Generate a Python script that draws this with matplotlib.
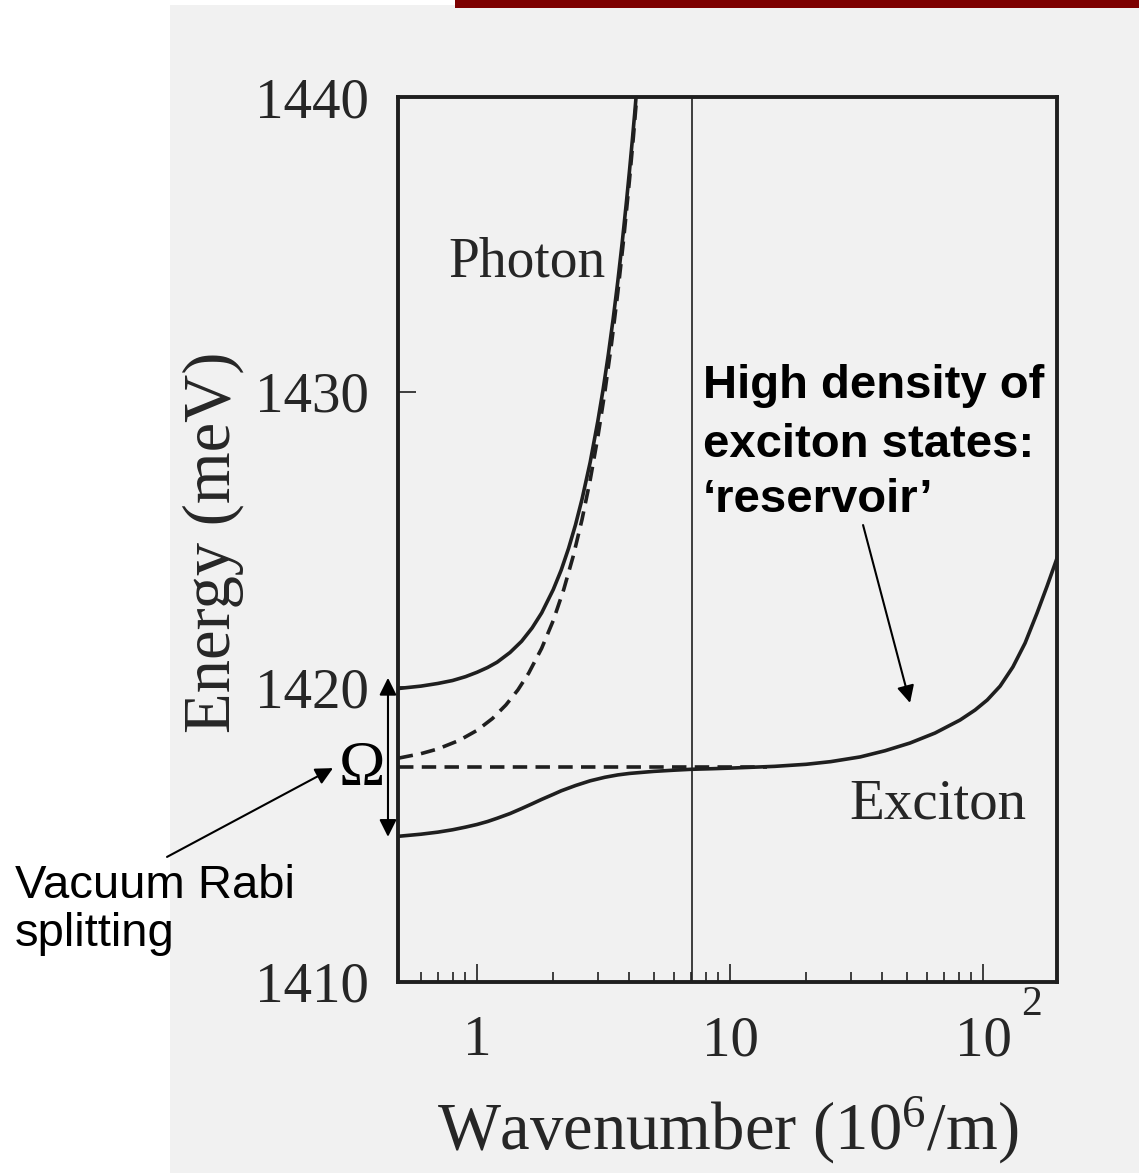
import matplotlib
matplotlib.use("Agg")
import matplotlib.pyplot as plt
import matplotlib.transforms as mtransforms
from matplotlib.patches import Rectangle
from matplotlib.ticker import FixedLocator, NullFormatter

# ---------------- data ----------------
# upper polariton branch (solid)
k_upper = [0.49, 0.6, 0.7, 0.8, 0.9, 1.0, 1.1, 1.2, 1.35, 1.5, 1.65, 1.8, 2.0, 2.15, 2.3,
           2.45, 2.6, 2.8, 3.0, 3.15, 3.3, 3.45, 3.6, 3.75, 3.9, 4.0, 4.1, 4.2, 4.35]
E_upper = [1419.95, 1420.03, 1420.12, 1420.22, 1420.35, 1420.50, 1420.66, 1420.84, 1421.17,
           1421.55, 1422.00, 1422.51, 1423.30, 1423.96, 1424.70, 1425.50, 1426.37, 1427.62,
           1429.00, 1430.09, 1431.25, 1432.47, 1433.75, 1435.09, 1436.50, 1437.46, 1438.45,
           1439.46, 1441.03]

# bare cavity photon (dashed)
k_photon = [0.49, 0.6, 0.7, 0.85, 1.0, 1.15, 1.3, 1.45, 1.6, 1.8, 2.0, 2.2, 2.4, 2.6, 2.8,
            3.0, 3.2, 3.4, 3.6, 3.8, 4.0, 4.15, 4.35]
E_photon = [1417.59, 1417.74, 1417.90, 1418.19, 1418.53, 1418.93, 1419.39, 1419.90, 1420.47,
            1421.31, 1422.25, 1423.30, 1424.44, 1425.68, 1427.02, 1428.46, 1430.00, 1431.64,
            1433.37, 1435.21, 1437.15, 1438.66, 1440.77]

# lower polariton branch -> exciton dispersion (solid)
k_lower = [0.49, 0.6, 0.7, 0.8, 0.9, 1.0, 1.1, 1.2, 1.35, 1.5, 1.65, 1.8, 2.0, 2.15, 2.45,
           2.8, 3.2, 3.6, 4.0, 5.0, 6.0, 7.0, 8.5, 10, 15, 20, 25, 32.7, 41.0, 51.4, 64.6,
           81.1, 93.0, 103.9, 116.8, 131.2, 146.6, 163.5, 179.1, 196.1]
E_lower = [1414.94, 1415.01, 1415.08, 1415.16, 1415.25, 1415.34, 1415.44, 1415.55, 1415.71,
           1415.88, 1416.04, 1416.19, 1416.36, 1416.48, 1416.66, 1416.82, 1416.94, 1417.02,
           1417.07, 1417.14, 1417.18, 1417.21, 1417.23, 1417.25, 1417.31, 1417.38, 1417.47,
           1417.63, 1417.84, 1418.10, 1418.44, 1418.88, 1419.22, 1419.56, 1420.03, 1420.68,
           1421.49, 1422.51, 1423.42, 1424.37]

# bare exciton level (dashed)
k_exciton = [0.49, 14.0]
E_exciton = [1417.30, 1417.30]

# vertical marker
k_marker = 7.08

# axis ticks
y_ticks = [1410, 1420, 1430, 1440]
x_major = [1, 10, 100]
x_major_text = ["1", "10", "10"]
x_minor = [0.6, 0.7, 0.8, 0.9, 2, 3, 4, 5, 6, 7, 8, 9, 20, 30, 40, 50, 60, 70, 80, 90]

# ---------------- figure ----------------
W, H = 1139, 1173
plt.rcParams["font.family"] = ["Liberation Serif", "DejaVu Serif"]
plt.rcParams["mathtext.fontset"] = "custom"
plt.rcParams["mathtext.rm"] = "Liberation Serif"
plt.rcParams["mathtext.it"] = "Liberation Serif:italic"

fig = plt.figure(figsize=(W / 100, H / 100), dpi=100, facecolor="white")

def fx(px):
    return px / W

def fy(py):
    return 1 - py / H

# scanned page and header bar
fig.patches.append(Rectangle((fx(170), 0), 1 - fx(170), fy(5), transform=fig.transFigure,
                             facecolor="#f1f1f1", edgecolor="none", zorder=-10))
fig.patches.append(Rectangle((fx(455), fy(8)), 1 - fx(455), 8 / H, transform=fig.transFigure,
                             facecolor="#7d0000", edgecolor="none", zorder=-10))

ax = fig.add_axes([fx(398), fy(982), (1057 - 398) / W, (982 - 97) / H])
ax.set_facecolor("none")
ax.set_xscale("log")
ax.set_xlim(0.487, 196)
ax.set_ylim(1410, 1440)

ink = "#1f1f1f"
txt = "#262626"
for s in ax.spines.values():
    s.set_linewidth(2.8)
    s.set_color(ink)

ax.xaxis.set_major_locator(FixedLocator(x_major))
ax.xaxis.set_minor_locator(FixedLocator(x_minor))
ax.xaxis.set_major_formatter(NullFormatter())
ax.xaxis.set_minor_formatter(NullFormatter())
ax.tick_params(axis="x", which="major", direction="in", length=13, width=1.2,
               color=ink, top=False, labelbottom=False)
ax.tick_params(axis="x", which="minor", direction="in", length=7, width=1.2,
               color=ink, top=False)
ax.set_yticks(y_ticks)
ax.tick_params(axis="y", direction="in", length=13, width=1.2, color=ink, right=False,
               pad=21, labelsize=41, labelcolor=txt)

# curves
lw = 2.6
dash = (0, (4.0, 2.3))
ax.plot(k_upper, E_upper, color=ink, lw=lw)
ax.plot(k_photon, E_photon, color=ink, lw=lw, linestyle=dash)
ax.plot(k_lower, E_lower, color=ink, lw=lw)
ax.plot(k_exciton, E_exciton, color=ink, lw=lw, linestyle=dash)
ax.axvline(k_marker, color=ink, lw=1.2)

# x tick labels
bx = mtransforms.blended_transform_factory(ax.transData, fig.transFigure)
for k, s in zip(x_major, x_major_text):
    ax.text(k, fy(1055), s, transform=bx, ha="center", va="baseline", fontsize=41, color=txt)
ax.text(155, fy(1015), "2", transform=bx, ha="center", va="baseline", fontsize=30, color=txt)

# axis titles
fig.text(fx(728), fy(1150), r"Wavenumber (10$^{6}$/m)", ha="center", va="baseline",
         fontsize=48, color=txt)
fig.text(fx(213), fy(542), "Energy (meV)", rotation=90, ha="center", va="center",
         fontsize=48, color=txt)

# curve labels
ax.text(1.58, 1433.9, "Photon", ha="center", va="baseline", fontsize=40, color=txt)
ax.text(66.4, 1415.53, "Exciton", ha="center", va="baseline", fontsize=41, color=txt)

# Rabi splitting marker
ax.text(-0.0546, 1416.68, "\u03a9",
        transform=mtransforms.blended_transform_factory(ax.transAxes, ax.transData),
        ha="center", va="baseline", fontsize=45, color="black", clip_on=False)
ax.annotate("", xy=(-0.0152, 1420.31), xytext=(-0.0152, 1414.92),
            xycoords=("axes fraction", "data"), textcoords=("axes fraction", "data"),
            arrowprops=dict(arrowstyle="<|-|>", mutation_scale=26, lw=1.5, color="black",
                            shrinkA=0, shrinkB=0), annotation_clip=False)
ax.annotate("", xy=(-0.0986, 1417.25), xytext=(-0.3505, 1414.24),
            xycoords=("axes fraction", "data"), textcoords=("axes fraction", "data"),
            arrowprops=dict(arrowstyle="-|>", mutation_scale=26, lw=1.5, color="black",
                            shrinkA=0, shrinkB=0), annotation_clip=False)
fig.text(fx(15), fy(898), "Vacuum Rabi", ha="left", va="baseline", fontsize=34,
         family="Liberation Sans", color="black")
fig.text(fx(15), fy(946), "splitting", ha="left", va="baseline", fontsize=34,
         family="Liberation Sans", color="black")

# reservoir note
for E, line in zip([1429.80, 1427.80, 1425.93],
                   ["High density of", "exciton states:", "\u2018reservoir\u2019"]):
    ax.text(7.82, E, line, ha="left", va="baseline", fontsize=34, fontweight="bold",
            family="Liberation Sans", color="black")
ax.annotate("", xy=(51.45, 1419.46), xytext=(33.55, 1425.49),
            arrowprops=dict(arrowstyle="-|>", mutation_scale=26, lw=1.5, color="black",
                            shrinkA=0, shrinkB=0))

fig.savefig("out.png", dpi=100, facecolor=fig.get_facecolor())
